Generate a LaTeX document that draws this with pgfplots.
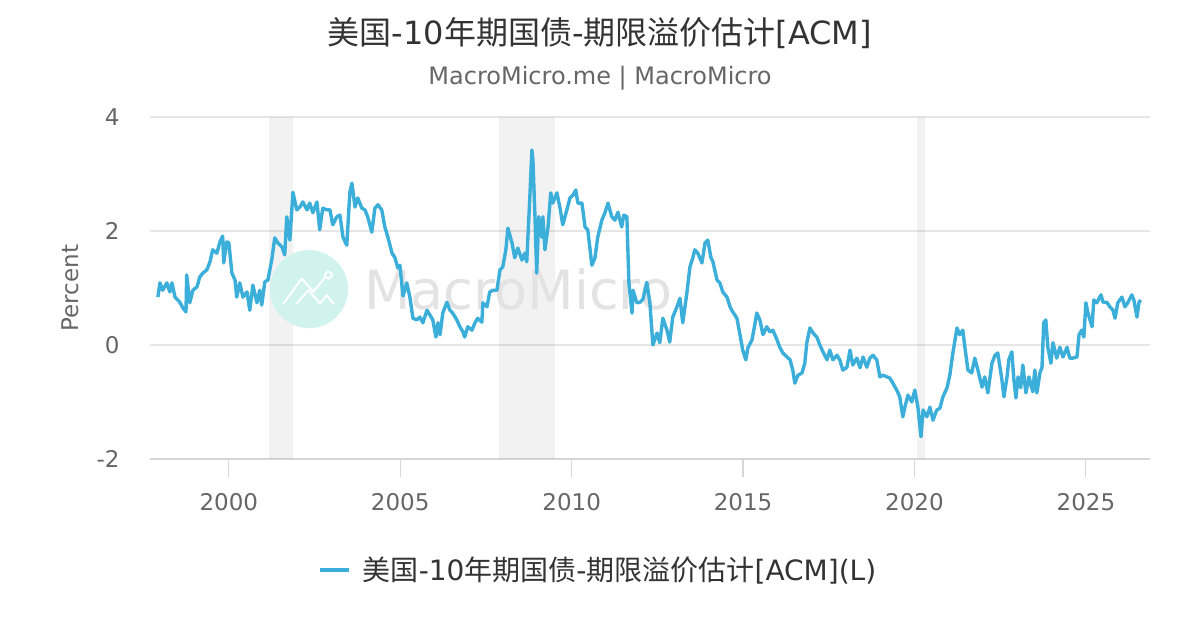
\documentclass[border=0pt]{standalone}
\usepackage{fontspec}
\setmainfont{DejaVu Sans}
\newfontfamily\cjk{Noto Sans CJK SC}
\usepackage{pgfplots}
\pgfplotsset{compat=1.18}
\usepackage{pgfplotstable}
\definecolor{linecol}{RGB}{59,174,218}
\definecolor{gridcol}{RGB}{230,230,230}
\definecolor{axiscol}{RGB}{214,214,214}
\definecolor{tickcol}{RGB}{102,102,102}
\definecolor{titlecol}{RGB}{51,51,51}
\definecolor{wmcircle}{RGB}{208,244,237}
\definecolor{wmtext}{RGB}{227,227,227}

\pgfplotstableread{
year val
1997.93 0.84
1997.99 1.09
1998.07 0.96
1998.19 1.09
1998.28 0.93
1998.34 1.09
1998.43 0.84
1998.57 0.75
1998.66 0.65
1998.75 0.58
1998.77 1.23
1998.86 0.74
1998.95 0.96
1999.07 1.02
1999.15 1.19
1999.24 1.26
1999.36 1.32
1999.45 1.46
1999.53 1.67
1999.65 1.61
1999.74 1.81
1999.82 1.91
1999.85 1.44
1999.94 1.81
2000.00 1.79
2000.09 1.26
2000.18 1.14
2000.23 0.84
2000.32 1.09
2000.41 0.84
2000.53 0.93
2000.61 0.61
2000.70 1.05
2000.82 0.74
2000.90 0.96
2000.96 0.70
2001.05 1.11
2001.14 1.14
2001.25 1.49
2001.34 1.88
2001.43 1.79
2001.55 1.72
2001.63 1.58
2001.69 2.25
2001.78 1.84
2001.87 2.68
2001.98 2.37
2002.07 2.42
2002.16 2.51
2002.28 2.37
2002.36 2.49
2002.45 2.32
2002.57 2.51
2002.65 2.02
2002.74 2.40
2002.86 2.37
2002.95 2.37
2003.03 2.11
2003.15 2.25
2003.24 2.28
2003.33 1.89
2003.44 1.75
2003.53 2.68
2003.59 2.84
2003.68 2.42
2003.76 2.58
2003.88 2.40
2003.97 2.37
2004.05 2.25
2004.17 1.98
2004.26 2.40
2004.35 2.46
2004.46 2.37
2004.55 2.07
2004.64 1.89
2004.76 1.61
2004.84 1.54
2004.93 1.35
2004.99 1.40
2005.08 0.86
2005.19 1.09
2005.28 0.84
2005.37 0.47
2005.48 0.44
2005.57 0.49
2005.66 0.39
2005.78 0.61
2005.86 0.53
2005.95 0.44
2006.04 0.14
2006.10 0.39
2006.16 0.18
2006.24 0.56
2006.36 0.75
2006.45 0.61
2006.53 0.56
2006.65 0.44
2006.74 0.32
2006.83 0.23
2006.88 0.14
2006.97 0.32
2007.09 0.26
2007.18 0.39
2007.26 0.47
2007.38 0.40
2007.41 0.74
2007.53 0.67
2007.61 0.93
2007.70 0.96
2007.82 0.96
2007.91 1.32
2007.99 1.37
2008.08 1.67
2008.14 2.05
2008.26 1.79
2008.34 1.53
2008.43 1.70
2008.55 1.49
2008.63 1.61
2008.69 1.46
2008.78 2.60
2008.84 3.42
2008.87 3.25
2008.93 2.25
2008.98 1.26
2009.04 2.25
2009.13 1.89
2009.16 2.25
2009.22 1.67
2009.31 2.07
2009.39 2.67
2009.45 2.49
2009.57 2.67
2009.66 2.40
2009.74 2.11
2009.86 2.37
2009.95 2.58
2010.04 2.63
2010.12 2.72
2010.18 2.49
2010.30 2.49
2010.39 2.07
2010.47 2.02
2010.59 1.40
2010.68 1.53
2010.76 1.89
2010.88 2.19
2010.97 2.32
2011.06 2.49
2011.17 2.25
2011.26 2.19
2011.35 2.33
2011.46 2.07
2011.52 2.28
2011.61 2.25
2011.67 1.09
2011.76 0.56
2011.79 0.96
2011.90 0.74
2011.99 0.75
2012.08 0.80
2012.19 1.10
2012.28 0.75
2012.37 0.00
2012.49 0.21
2012.57 0.04
2012.66 0.47
2012.78 0.26
2012.86 0.05
2012.95 0.49
2013.07 0.67
2013.16 0.82
2013.24 0.39
2013.36 0.91
2013.45 1.37
2013.54 1.54
2013.59 1.67
2013.68 1.61
2013.80 1.44
2013.89 1.79
2013.97 1.84
2014.06 1.54
2014.12 1.46
2014.24 1.14
2014.32 1.09
2014.41 0.93
2014.53 0.84
2014.62 0.67
2014.70 0.58
2014.82 0.47
2014.91 0.18
2014.99 -0.09
2015.08 -0.26
2015.14 -0.05
2015.26 0.09
2015.34 0.35
2015.40 0.56
2015.49 0.44
2015.58 0.18
2015.69 0.32
2015.78 0.23
2015.87 0.26
2015.99 0.09
2016.07 -0.04
2016.16 -0.14
2016.28 -0.21
2016.37 -0.26
2016.45 -0.44
2016.51 -0.67
2016.60 -0.53
2016.72 -0.49
2016.80 -0.32
2016.86 0.04
2016.95 0.30
2017.04 0.21
2017.15 0.14
2017.24 0.00
2017.33 -0.12
2017.45 -0.26
2017.53 -0.09
2017.62 -0.26
2017.74 -0.18
2017.82 -0.26
2017.91 -0.44
2018.03 -0.39
2018.12 -0.09
2018.20 -0.35
2018.32 -0.23
2018.41 -0.40
2018.50 -0.21
2018.61 -0.39
2018.70 -0.23
2018.79 -0.18
2018.90 -0.26
2018.99 -0.56
2019.08 -0.53
2019.20 -0.56
2019.28 -0.58
2019.37 -0.67
2019.49 -0.80
2019.57 -0.91
2019.66 -1.26
2019.72 -1.09
2019.81 -0.88
2019.92 -1.00
2020.01 -0.79
2020.10 -1.09
2020.19 -1.61
2020.25 -1.14
2020.36 -1.26
2020.45 -1.09
2020.54 -1.32
2020.65 -1.14
2020.74 -1.11
2020.83 -0.91
2020.95 -0.75
2021.03 -0.53
2021.12 -0.14
2021.24 0.30
2021.32 0.18
2021.41 0.26
2021.47 -0.04
2021.56 -0.44
2021.67 -0.49
2021.76 -0.23
2021.85 -0.44
2021.97 -0.74
2022.05 -0.56
2022.14 -0.84
2022.26 -0.32
2022.35 -0.18
2022.43 -0.14
2022.55 -0.61
2022.61 -0.91
2022.70 -0.56
2022.75 -0.26
2022.84 -0.12
2022.90 -0.61
2022.96 -0.93
2023.02 -0.56
2023.10 -0.75
2023.16 -0.35
2023.25 -0.84
2023.34 -0.56
2023.45 -0.82
2023.51 -0.44
2023.57 -0.84
2023.66 -0.49
2023.72 -0.39
2023.77 0.39
2023.83 0.44
2023.89 -0.04
2023.98 -0.32
2024.04 0.04
2024.15 -0.23
2024.24 -0.04
2024.33 -0.21
2024.45 -0.04
2024.53 -0.23
2024.62 -0.23
2024.74 -0.21
2024.80 0.18
2024.88 0.26
2024.94 0.14
2025.00 0.74
2025.06 0.56
2025.18 0.32
2025.23 0.79
2025.32 0.74
2025.44 0.88
2025.50 0.75
2025.61 0.75
2025.70 0.67
2025.79 0.61
2025.85 0.47
2025.93 0.74
2026.05 0.84
2026.14 0.67
2026.23 0.75
2026.34 0.88
2026.40 0.79
2026.49 0.49
2026.55 0.75
2026.60 0.79
}\acmdata

\begin{document}
\begin{tikzpicture}
\path[use as bounding box] (0,0) rectangle (600pt,315pt);
\node[anchor=base, text=titlecol, font=\fontsize{16}{19}\selectfont] at (300pt,292.5pt)
  {{\cjk 美国}-10{\cjk 年期国债}-{\cjk 期限溢价估计}[ACM]};
\node[anchor=base, text=tickcol, font=\fontsize{12}{14}\selectfont] at (300pt,272.5pt)
  {MacroMicro.me | MacroMicro};
\begin{axis}[
  at={(75pt,85.5pt)}, anchor=south west,
  scale only axis, width=500pt, height=171pt,
  xmin=1997.70, xmax=2026.87, ymin=-2, ymax=4,
  xtick={2000,2005,2010,2015,2020,2025},
  ytick={-2,0,2,4},
  /pgf/number format/assume math mode=true,
  /pgf/number format/1000 sep={},
  ymajorgrids,
  grid style={draw=gridcol, line width=0.6pt},
  axis x line*=bottom, axis y line*=left,
  x axis line style={draw=axiscol, line width=0.6pt, -},
  y axis line style={draw=none},
  tick align=outside,
  major tick length=9pt,
  xtick style={draw=axiscol, line width=0.6pt},
  ytick style={draw=none},
  xticklabel style={text=tickcol, font=\fontsize{11.5}{13}\selectfont, anchor=base, yshift=-16.75pt},
  yticklabel style={text=tickcol, font=\fontsize{11.5}{13}\selectfont, anchor=east, inner sep=0pt, xshift=-6pt},
  ylabel={Percent},
  ylabel style={at={(axis description cs:-0.08,0.5)}, anchor=center, text=tickcol, font=\fontsize{11.5}{13}\selectfont},
  legend style={at={(axis description cs:0.449,-0.3246)}, anchor=center, draw=none, fill=none,
    font=\fontsize{14}{16}\selectfont, text=titlecol},
  legend cell align=left,
  legend image code/.code={\draw[#1, line width=2pt] (0pt,0pt) -- (14.5pt,0pt);},
]
\addplot[draw=none, fill=black, fill opacity=0.05, forget plot] coordinates {(2001.17,-2) (2001.87,-2) (2001.87,4) (2001.17,4)} -- cycle;
\addplot[draw=none, fill=black, fill opacity=0.05, forget plot] coordinates {(2007.88,-2) (2009.51,-2) (2009.51,4) (2007.88,4)} -- cycle;
\addplot[draw=none, fill=black, fill opacity=0.05, forget plot] coordinates {(2020.07,-2) (2020.30,-2) (2020.30,4) (2020.07,4)} -- cycle;
\fill[wmcircle] (axis cs:2002.34,0.98) circle[radius=19.5pt];
\begin{scope}[shift={(axis cs:2002.34,0.98)}]
  \draw[white, line width=1pt, line join=round, line cap=round] (-12.8pt,-7.2pt) -- (-3.7pt,5.3pt) -- (2.2pt,-1.3pt) -- (8.8pt,7pt);
  \draw[white, line width=1pt, line join=round, line cap=round] (-6.2pt,-7.2pt) -- (-0.3pt,-0.5pt) -- (5.5pt,-7.2pt) -- (8.8pt,-3pt) -- (12.2pt,-7.2pt);
  \draw[white, fill=wmcircle, line width=1pt] (9.7pt,7pt) circle[radius=1.7pt];
\end{scope}
\node[text=wmtext, font=\fontsize{27}{30}\selectfont] at (axis cs:2008.45,0.98) {MacroMicro};
\addplot[linecol, line width=1.7pt, line join=round] table[x=year, y=val] {\acmdata};
\addlegendentry{\hspace{4pt}{\cjk 美国}-10{\cjk 年期国债}-{\cjk 期限溢价估计}[ACM](L)}
\end{axis}
\end{tikzpicture}
\end{document}
